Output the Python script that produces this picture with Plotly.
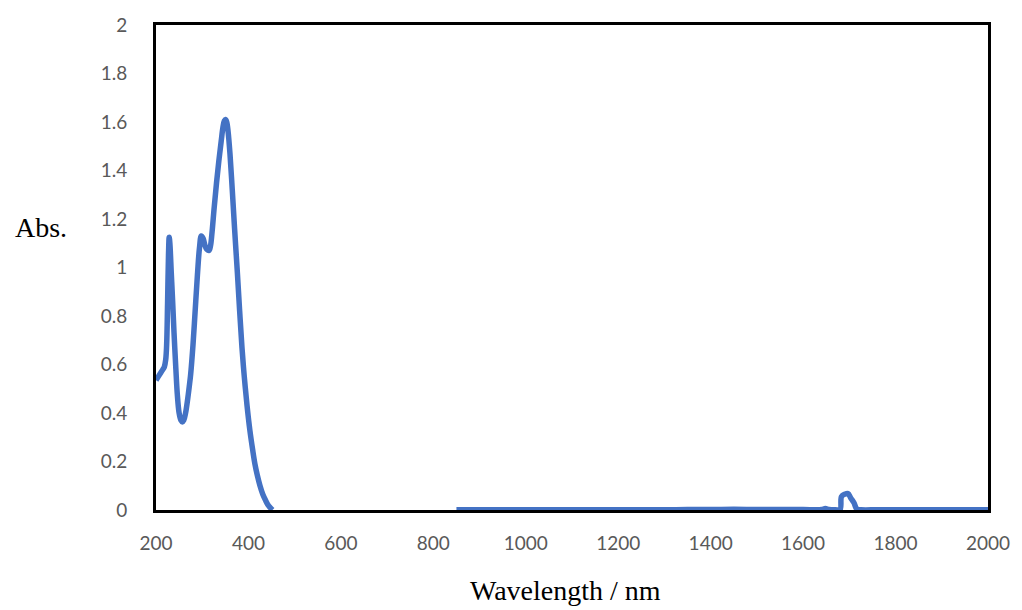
import plotly.graph_objects as go

# UV region (nm, Abs.)
wl_uv = [200, 205, 210, 215, 218, 221, 223, 225, 227, 228.6, 230, 233, 236, 239, 243, 246, 250, 254, 257,
         260, 264, 268, 272, 275, 280, 286, 290, 294, 298, 302, 306, 310, 314.6, 318, 321, 326, 331, 336,
         341, 345, 348, 350.5, 353, 356, 360, 365, 370, 376, 381, 386, 391, 397, 403, 409, 414, 419,
         425, 431, 437, 442, 447, 452]
abs_uv = [0.535, 0.55, 0.565, 0.58, 0.59, 0.62, 0.68, 0.85, 1.05, 1.125, 1.10, 0.98, 0.86, 0.73, 0.58, 0.48, 0.40, 0.37, 0.363,
          0.37, 0.40, 0.45, 0.51, 0.56, 0.68, 0.86, 0.98, 1.08, 1.13, 1.12, 1.09, 1.075, 1.07, 1.09, 1.14, 1.25, 1.35, 1.44,
          1.52, 1.58, 1.605, 1.61, 1.60, 1.56, 1.47, 1.32, 1.16, 0.98, 0.82, 0.67, 0.55, 0.43, 0.33, 0.25, 0.19, 0.145,
          0.10, 0.065, 0.04, 0.022, 0.01, 0.0]

# NIR region (nm, Abs.)
wl_nir = [850, 900, 950, 1000, 1050, 1100, 1150, 1200, 1250, 1300, 1350, 1400, 1450, 1500, 1550, 1600,
          1640, 1648, 1656, 1670, 1680, 1683, 1690, 1697, 1703, 1710, 1716, 1725, 1760, 1800, 1850,
          1900, 1950, 2000]
abs_nir = [0.001, 0.001, 0.001, 0.001, 0.001, 0.001, 0.001, 0.001, 0.001, 0.001, 0.002, 0.002, 0.003, 0.002, 0.002, 0.002,
           0.002, 0.006, 0.002, 0.001, 0.002, 0.055, 0.065, 0.068, 0.05, 0.03, 0.004, 0.001, 0.001, 0.001, 0.001,
           0.001, 0.001, 0.001]

x_vals = wl_uv + [None] + wl_nir
y_vals = abs_uv + [None] + abs_nir

fig = go.Figure()
fig.add_trace(go.Scatter(
    x=x_vals, y=y_vals, mode="lines",
    line=dict(color="#4472C4", width=5.5, shape="spline", smoothing=1.0),
    connectgaps=False, showlegend=False, hoverinfo="skip",
))

tick_font = dict(family="Lato, Carlito, sans-serif", size=19, color="#595959")

fig.update_layout(
    width=1022, height=610,
    margin=dict(l=156, r=28, t=25, b=100),
    paper_bgcolor="white", plot_bgcolor="white",
    xaxis=dict(
        range=[200, 2000], dtick=200, tick0=200,
        showgrid=False, zeroline=False,
        showline=True, linecolor="black", linewidth=3, mirror=True,
        ticks="", tickfont=tick_font, ticklabelstandoff=14,
        layer="below traces",
    ),
    yaxis=dict(
        range=[0, 2], dtick=0.2, tick0=0,
        showgrid=False, zeroline=False,
        showline=True, linecolor="black", linewidth=3, mirror=True,
        ticks="", tickfont=tick_font, ticklabelstandoff=22,
        layer="below traces",
    ),
    annotations=[
        dict(text="Abs.", x=12, y=228, xref="paper", yref="paper", showarrow=False,
             font=dict(family="Liberation Serif, Times New Roman, serif", size=28, color="black"),
             xanchor="left", yanchor="middle"),
        dict(text="Wavelength / nm", x=568, y=590, xref="paper", yref="paper", showarrow=False,
             font=dict(family="Liberation Serif, Times New Roman, serif", size=28, color="black"),
             xanchor="center", yanchor="middle"),
    ],
)

# convert pixel positions of titles to paper coordinates
L, R, T, B = 156, 28, 25, 100
pw = 1022 - L - R
ph = 610 - T - B
for ann in fig.layout.annotations:
    px, py = ann.x, ann.y
    ann.x = (px - L) / pw
    ann.y = (610 - B - py) / ph

fig.write_html("out.html")
